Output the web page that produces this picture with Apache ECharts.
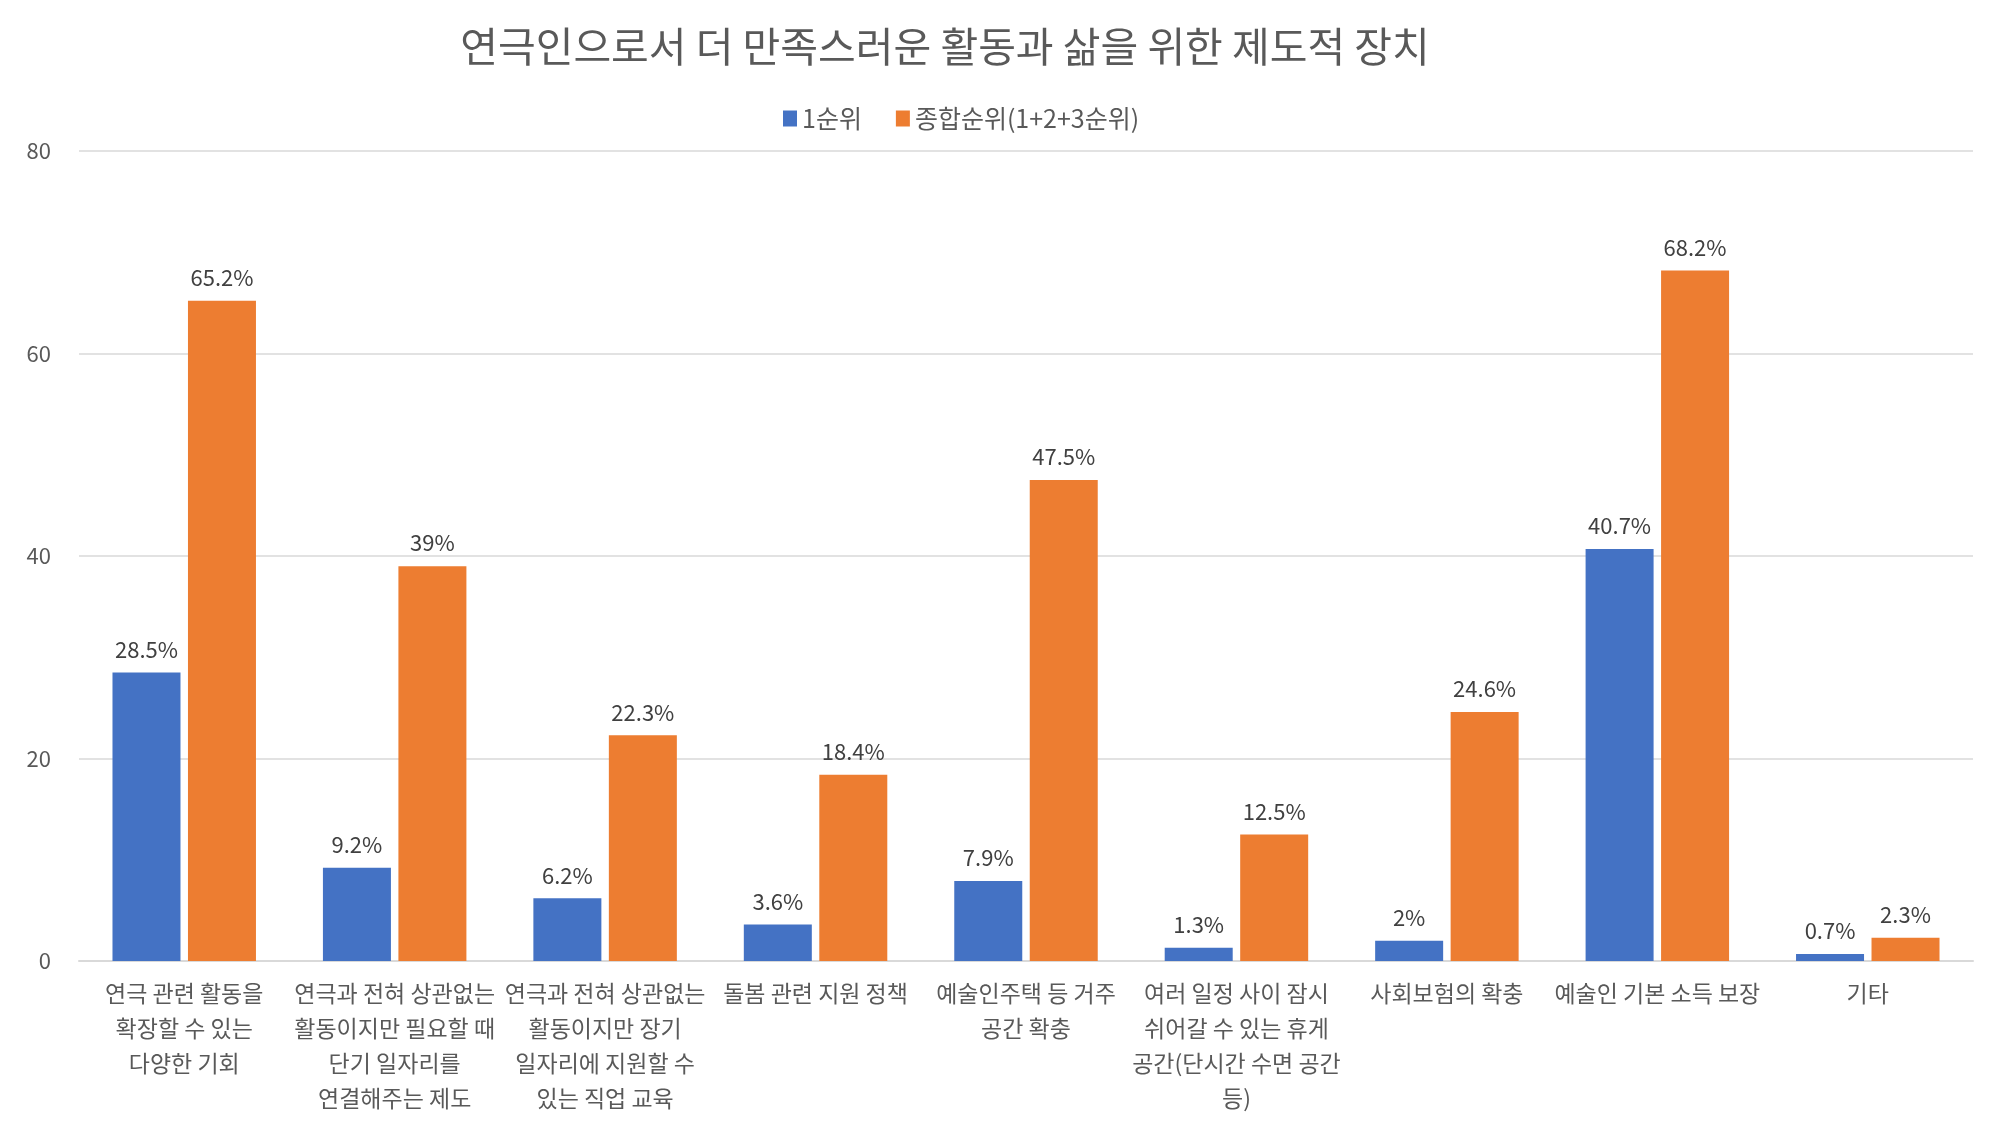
<!DOCTYPE html>
<html>
<head>
<meta charset="utf-8">
<script src="https://cdn.jsdelivr.net/npm/echarts@6/dist/echarts.min.js"></script>
<style>
  html, body { margin: 0; padding: 0; background: #fff; }
  #chart { width: 2000px; height: 1125px; }
</style>
</head>
<body>
<div id="chart"></div>
<script>
// categories (line breaks as in the original labels)
var categories = [
  '연극 관련 활동을\n확장할 수 있는\n다양한 기회',
  '연극과 전혀 상관없는\n활동이지만 필요할 때\n단기 일자리를\n연결해주는 제도',
  '연극과 전혀 상관없는\n활동이지만 장기\n일자리에 지원할 수\n있는 직업 교육',
  '돌봄 관련 지원 정책',
  '예술인주택 등 거주\n공간 확충',
  '여러 일정 사이 잠시\n쉬어갈 수 있는 휴게\n공간(단시간 수면 공간\n등)',
  '사회보험의 확충',
  '예술인 기본 소득 보장',
  '기타'
];
var rank1 = [28.5, 9.2, 6.2, 3.6, 7.9, 1.3, 2, 40.7, 0.7];
var rankTotal = [65.2, 39, 22.3, 18.4, 47.5, 12.5, 24.6, 68.2, 2.3];
var seriesNames = ['1순위', '종합순위(1+2+3순위)'];

var font = "'Noto Sans CJK KR', 'Noto Sans', sans-serif";
var myChart = echarts.init(document.getElementById('chart'));

var labelStyle = {
  show: true,
  position: 'top',
  distance: 12,
  formatter: '{c}%',
  color: '#404040',
  fontSize: 22,
  fontFamily: font
};

var option = {
  backgroundColor: '#fff',
  animation: false,
  title: {
    text: '연극인으로서 더 만족스러운 활동과 삶을 위한 제도적 장치',
    left: 940,
    top: 21,
    textAlign: 'center',
    textStyle: { color: '#595959', fontSize: 41, fontWeight: 'normal', fontFamily: font }
  },
  legend: {
    data: seriesNames,
    top: 101,
    left: 778,
    itemWidth: 14,
    itemHeight: 16,
    itemGap: 34,
    icon: 'rect',
    textStyle: { color: '#595959', fontSize: 25, fontFamily: font }
  },
  grid: { left: 79, right: 27, top: 151, bottom: 164 },
  xAxis: {
    type: 'category',
    data: categories,
    axisLine: { lineStyle: { color: '#d9d9d9', width: 2 } },
    axisTick: { show: false },
    axisLabel: {
      interval: 0,
      color: '#595959',
      fontSize: 23,
      lineHeight: 35,
      margin: 15,
      fontFamily: font
    }
  },
  yAxis: {
    type: 'value',
    min: 0,
    max: 80,
    interval: 20,
    axisLine: { show: false },
    axisTick: { show: false },
    splitLine: { lineStyle: { color: '#d9d9d9', width: 1.5 } },
    axisLabel: { color: '#595959', fontSize: 22, margin: 28, fontFamily: font }
  },
  series: [
    {
      name: seriesNames[0],
      type: 'bar',
      data: rank1,
      barWidth: 68,
      barGap: '11%',
      itemStyle: { color: '#4472c4' },
      label: labelStyle
    },
    {
      name: seriesNames[1],
      type: 'bar',
      data: rankTotal,
      barWidth: 68,
      barGap: '11%',
      itemStyle: { color: '#ed7d31' },
      label: labelStyle
    }
  ]
};
option && myChart.setOption(option);
</script>
</body>
</html>
